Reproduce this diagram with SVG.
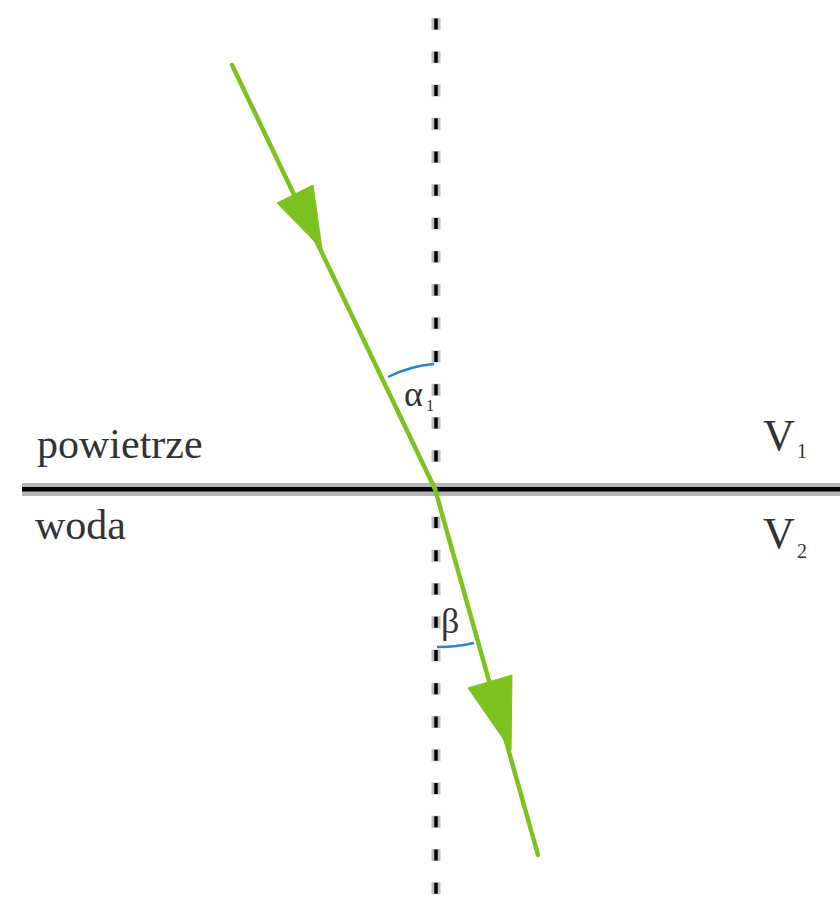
<svg xmlns="http://www.w3.org/2000/svg" width="840" height="903" viewBox="0 0 840 903">
<style>
.txt{font-family:"Liberation Serif","Times New Roman",serif;fill:#333}
.ray{stroke:#7dc21e;stroke-width:4.5;fill:none;stroke-linecap:round}
.head{fill:#7dc21e;stroke:#7dc21e;stroke-width:1;stroke-linejoin:round}
.arc{stroke:#2b82c9;stroke-width:2.5;fill:none}
</style>
<rect width="840" height="903" fill="#ffffff"/>
<g id="normal">
<line x1="436" y1="18" x2="436" y2="903" stroke="#bdbdbd" stroke-width="9" stroke-dasharray="12 21.24"/>
<line x1="436" y1="18.5" x2="436" y2="903" stroke="#000" stroke-width="3.5" stroke-dasharray="11 22.24"/>
</g>
<g id="interface">
<rect x="22" y="483" width="818" height="13" fill="#b5b5b5"/>
<rect x="22" y="487" width="818" height="4.5" fill="#000"/>
</g>
<g id="arcs">
<path class="arc" d="M 388 377 A 125 125 0 0 1 434 364"/>
<path class="arc" d="M 437 647 A 158 158 0 0 0 474 643"/>
</g>
<g id="rays">
<line class="ray" x1="232" y1="65" x2="435" y2="489"/>
<line class="ray" x1="435" y1="489" x2="538" y2="855"/>
<polygon class="head" points="277,203 313,185 322,249"/>
<polygon class="head" points="468,688 512,675 511,750"/>
</g>
<g id="labels">
<text class="txt" x="37" y="458" font-size="42">powietrze</text>
<text class="txt" x="35" y="539" font-size="42">woda</text>
<text class="txt" x="763" y="450" font-size="44">V</text>
<text class="txt" x="797" y="458" font-size="20">1</text>
<text class="txt" x="763" y="548" font-size="44">V</text>
<text class="txt" x="797" y="558" font-size="20">2</text>
<text class="txt" x="404" y="406" font-size="36">α</text>
<text class="txt" x="426" y="411" font-size="16">1</text>
<text class="txt" x="441" y="633" font-size="36">β</text>
</g>
</svg>
